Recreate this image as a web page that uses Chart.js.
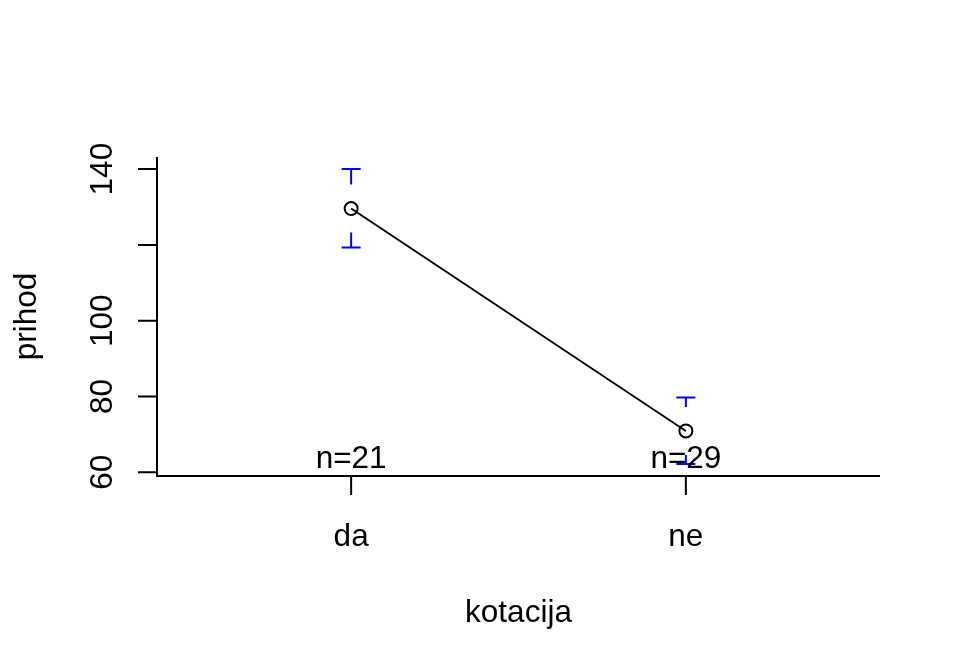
<!DOCTYPE html>
<html>
<head>
<meta charset="utf-8">
<script src="https://cdn.jsdelivr.net/npm/chart.js@4/dist/chart.umd.min.js"></script>
<style>
  body { margin: 0; background: #fff; }
  #wrap { width: 960px; height: 672px; }
</style>
</head>
<body>
<div id="wrap"><canvas id="c" width="960" height="672"></canvas></div>
<script>
// data
var categories = ['da', 'ne'];
var means = [129.6, 70.9];
var upper = [140.0, 79.7];
var lower = [119.3, 62.2];
var counts = [21, 29];
var yTicks = [60, 80, 100, 120, 140];
var yTickLabels = ['60', '80', '100', '', '140'];

var FONT = '31.5px "Liberation Sans", Arial, sans-serif';

var points = [];
for (var i = 0; i < categories.length; i++) {
  points.push({ x: i + 1, y: means[i] });
}

// axes, error bars and labels drawn the R way
var rAxes = {
  id: 'rAxes',
  afterDatasetsDraw: function(chart) {
    var ctx = chart.ctx;
    var xs = chart.scales.x, ys = chart.scales.y;
    var a = chart.chartArea;
    ctx.save();

    // error bars
    ctx.strokeStyle = '#0000ff';
    ctx.lineWidth = 2;
    var gap = 24, cap = 9.5;
    for (var i = 0; i < categories.length; i++) {
      var px = xs.getPixelForValue(i + 1);
      var pm = ys.getPixelForValue(means[i]);
      var pu = ys.getPixelForValue(upper[i]);
      var pl = ys.getPixelForValue(lower[i]);
      ctx.beginPath();
      ctx.moveTo(px, pu); ctx.lineTo(px, Math.min(pm - gap, pl));
      ctx.moveTo(px, Math.max(pm + gap, pu)); ctx.lineTo(px, pl);
      ctx.moveTo(px - cap, pu); ctx.lineTo(px + cap, pu);
      ctx.moveTo(px - cap, pl); ctx.lineTo(px + cap, pl);
      ctx.stroke();
    }

    // L box
    ctx.strokeStyle = '#000';
    ctx.lineWidth = 2;
    ctx.beginPath();
    ctx.moveTo(a.left, a.top);
    ctx.lineTo(a.left, a.bottom);
    ctx.lineTo(a.right, a.bottom);
    ctx.stroke();

    ctx.font = FONT;
    ctx.fillStyle = '#000';

    // y axis
    ctx.beginPath();
    for (var j = 0; j < yTicks.length; j++) {
      var py = ys.getPixelForValue(yTicks[j]);
      ctx.moveTo(a.left, py); ctx.lineTo(a.left - 19, py);
    }
    ctx.stroke();
    ctx.textAlign = 'center';
    ctx.textBaseline = 'alphabetic';
    for (var j = 0; j < yTicks.length; j++) {
      if (!yTickLabels[j]) continue;
      var py = ys.getPixelForValue(yTicks[j]);
      ctx.save();
      ctx.translate(112, py);
      ctx.rotate(-Math.PI / 2);
      ctx.fillText(yTickLabels[j], 0, 0);
      ctx.restore();
    }

    // x axis
    ctx.beginPath();
    for (var i = 0; i < categories.length; i++) {
      var px = xs.getPixelForValue(i + 1);
      ctx.moveTo(px, a.bottom); ctx.lineTo(px, a.bottom + 19);
    }
    ctx.stroke();
    for (var i = 0; i < categories.length; i++) {
      var px = xs.getPixelForValue(i + 1);
      ctx.fillText(categories[i], px, 546);
      ctx.fillText('n=' + counts[i], px, 468);
    }

    // titles
    ctx.fillText('kotacija', (a.left + a.right) / 2, 622);
    ctx.save();
    ctx.translate(36, (a.top + a.bottom) / 2);
    ctx.rotate(-Math.PI / 2);
    ctx.fillText('prihod', 0, 0);
    ctx.restore();

    ctx.restore();
  }
};

new Chart(document.getElementById('c'), {
  type: 'line',
  data: {
    datasets: [{
      data: points,
      borderColor: '#000',
      borderWidth: 1.8,
      pointRadius: 6.5,
      pointBorderWidth: 2,
      pointBorderColor: '#000',
      pointBackgroundColor: 'rgba(0,0,0,0)',
      fill: false,
      tension: 0
    }]
  },
  options: {
    responsive: false,
    animation: false,
    layout: { padding: { left: 157, right: 80, top: 157, bottom: 196 } },
    plugins: { legend: { display: false }, tooltip: { enabled: false } },
    scales: {
      x: { type: 'linear', min: 0.42, max: 2.58, display: false },
      y: { type: 'linear', min: 59.0, max: 143.2, display: false }
    }
  },
  plugins: [rAxes]
});
</script>
</body>
</html>
